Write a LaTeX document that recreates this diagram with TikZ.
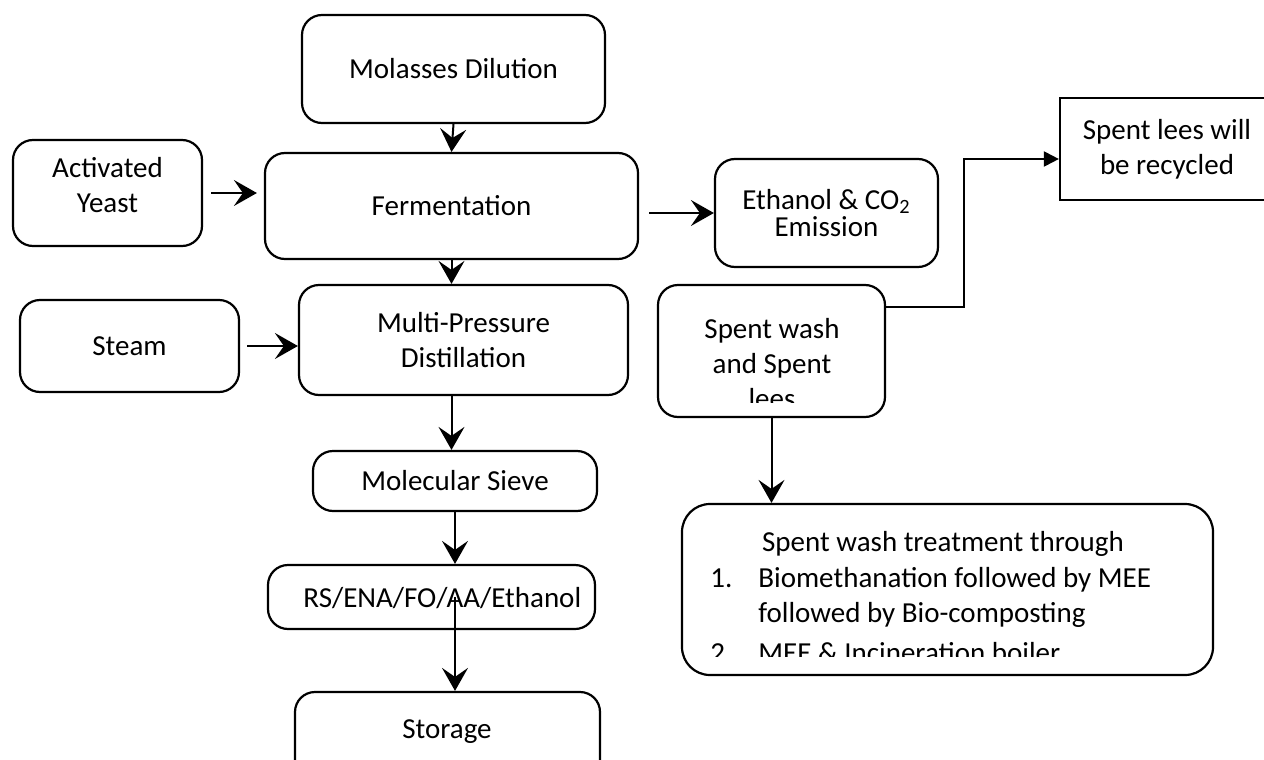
\documentclass[tikz,border=0pt]{standalone}
\usepackage{fontspec}
\setmainfont{Carlito}
\usetikzlibrary{arrows.meta,positioning}

\begin{document}
\begin{tikzpicture}[
  x=0.5pt, y=-0.5pt,
  font=\fontsize{14.5}{17.5}\selectfont,
  box/.style={draw, rounded corners=10pt, line width=1.1pt, inner sep=0pt, align=center},
  sqbox/.style={draw, line width=1.1pt, inner sep=0pt, align=center},
  arr/.style={-{Stealth[length=11.5pt, width=13pt, inset=4.5pt]}, line width=1pt},
  tri/.style={-{Triangle[length=7.5pt, width=7.5pt]}, line width=1pt}
]
\clip (0,0) rectangle (1264,760);
% process line
\node[box, minimum width=151.5pt, minimum height=54pt] (mol) at (453.5,69) {Molasses Dilution};
\node[box, minimum width=94.5pt, minimum height=53pt] (yeast) at (107.5,193) {};
\node[align=center] (yeasttxt) at (107.5,185) {Activated\\Yeast};
\node[box, minimum width=186.5pt, minimum height=53pt] (ferm) at (451.5,206) {Fermentation};
\node[box, minimum width=111.5pt, minimum height=54pt] (etoh) at (826.5,213) {Ethanol \& CO\textsubscript{2}\\[-4pt]Emission};
\node[box, minimum width=109.5pt, minimum height=46pt] (steam) at (129.5,346) {Steam};
\node[box, minimum width=164.5pt, minimum height=55pt] (multi) at (463.5,340) {Multi-Pressure\\Distillation};
\node[box, minimum width=142pt, minimum height=30pt] (sieve) at (455,481) {Molecular Sieve};
\node[box, minimum width=163.5pt, minimum height=32pt] (rs) at (431.5,597) {};
\node[anchor=base west, inner sep=0pt] (rstxt) at (303,607) {RS/ENA/FO/AA/Ethanol};
\node[box, minimum width=152.5pt, minimum height=44pt] (storage) at (447.5,736) {};
\node[anchor=base, inner sep=0pt] (storagetxt) at (447,738) {Storage};
% effluent side
\node[box, minimum width=113.5pt, minimum height=66pt] (spent) at (771.5,351) {};
\begin{scope}
  \clip (spent.north west) rectangle ([yshift=8pt]spent.south east);
  \node[anchor=base, inner sep=0pt] (spenttxt) at (772,338)
    {\begin{tabular}[t]{@{}c@{}}Spent wash\\and Spent\\lees\end{tabular}};
\end{scope}
\node[sqbox, minimum width=107pt, minimum height=51pt] (lees) at (1167,149) {Spent lees will\\be recycled};
\node[box, rounded corners=14pt, minimum width=265.5pt, minimum height=85.5pt] (treat) at (947.5,589.5) {};
\begin{scope}
  \clip (treat.north west) rectangle ([yshift=10pt]treat.south east);
  \node[anchor=base, inner sep=0pt] (treathead) at (943,551) {Spent wash treatment through};
  \node[anchor=base west, inner sep=0pt] (treatlist) at (710,587)
    {\begin{tabular}[t]{@{}p{24pt}@{}l@{}}
      1. & Biomethanation followed by MEE\\
         & followed by Bio-composting\\[2.5pt]
      2. & MEE \& Incineration boiler
    \end{tabular}};
\end{scope}
% arrows
\draw[arr] (mol.south) -- (ferm.north);
\draw[arr, shorten <=4pt, shorten >=3.5pt] (yeast.east) -- (yeast.east -| ferm.west);
\draw[arr, shorten <=5pt] (etoh.west -| ferm.east) -- (etoh.west);
\draw[arr] (ferm.south) -- (ferm.south |- multi.north);
\draw[arr, shorten <=3.5pt] (steam.east) -- (steam.east -| multi.west);
\draw[arr] (multi.south -| ferm.south) -- (sieve.north -| ferm.south);
\draw[arr] (sieve.south) -- (sieve.south |- rs.north);
\draw[arr] (sieve.south |- rs.center) -- (sieve.south |- storage.north);
\draw[tri] ([yshift=-11.5pt]spent.north east) -- ++(78,0) |- ([yshift=-5pt]lees.west);
\draw[arr] (spent.south) -- (spent.south |- treat.north);
\end{tikzpicture}
\end{document}
